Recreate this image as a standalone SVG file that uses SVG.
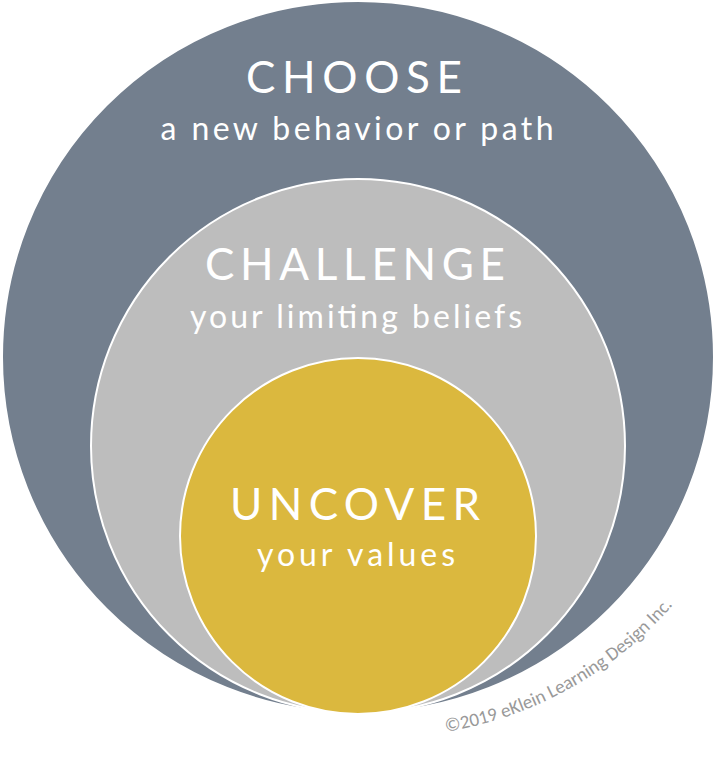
<svg xmlns="http://www.w3.org/2000/svg" width="714" height="762" viewBox="0 0 714 762">
<style>
.h{font-family:"Lato","Liberation Sans",sans-serif;fill:#fff;text-anchor:middle;font-size:44px}
.s{font-family:"Lato","Liberation Sans",sans-serif;fill:#fff;text-anchor:middle;font-size:32px}
circle{stroke:#fff;stroke-width:2}
</style>
<defs><path id="arc" d="M 446,732 A 386 386 0 0 0 700,570"/></defs>
<rect width="714" height="762" fill="#fff"/>
<g id="choose"><circle cx="358" cy="357" r="356" fill="#737f8e"/>
<text class="h" x="354" y="93" textLength="216" lengthAdjust="spacing">CHOOSE</text><text class="s" x="357" y="140" textLength="393" lengthAdjust="spacing">a new behavior or path</text></g>
<g id="challenge"><circle cx="358" cy="446" r="267" fill="#bdbdbd"/>
<text class="h" x="355" y="280" textLength="300" lengthAdjust="spacing">CHALLENGE</text><text class="s" x="356" y="328" textLength="332" lengthAdjust="spacing">your limiting beliefs</text></g>
<g id="uncover"><circle cx="358" cy="536" r="178" fill="#dbb83e"/>
<text class="h" x="355" y="520" textLength="250" lengthAdjust="spacing">UNCOVER</text><text class="s" x="356" y="566" textLength="198" lengthAdjust="spacing">your values</text></g>
<g id="connectors"/>
<text font-family="Calibri,'Carlito','Liberation Sans',sans-serif" font-size="19" fill="#999"><textPath href="#arc">©2019 eKlein Learning Design Inc.</textPath></text>
</svg>
